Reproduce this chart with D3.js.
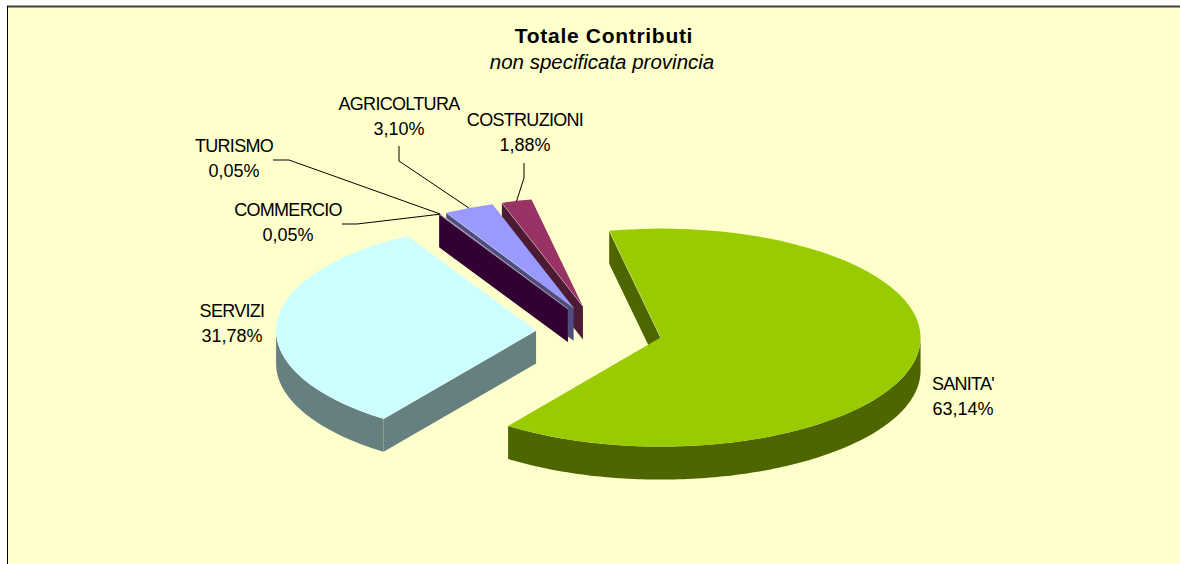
<!DOCTYPE html>
<html>
    <head>
        <meta charset="utf-8">
        <title>Totale Contributi</title>
        <script src="https://cdn.jsdelivr.net/npm/d3@7"></script>
        <style>
         html, body { margin: 0; padding: 0; background: #fff; }
         svg { display: block; }
         text { font-family: "Liberation Sans", Arial, sans-serif; fill: #000; }
        </style>
    </head>

    <body>
        <div id="app"></div>
        <script>
         var categories = ["SANITA'", "SERVIZI", "COMMERCIO", "TURISMO", "AGRICOLTURA", "COSTRUZIONI"]
         var values = [63.14, 31.78, 0.05, 0.05, 3.10, 1.88]
         var topColors = ["#99cc00", "#ccffff", "#660066", "#ffffcc", "#9999ff", "#993366"]
         var wallColors = ["#4d6600", "#668080", "#330033", "#808066", "#4d4d80", "#4d1a33"]

         // label centres and leader elbows, same order as categories
         var labelX = [963, 232, 288, 234, 399, 525]
         var labelY = [390, 317, 216, 152, 110, 126]
         var leaders = [null, null,
                        [[342, 224], [357, 224]],
                        [[273, 160], [289, 160]],
                        [[399, 146], [399, 161]],
                        [[524, 163], [524, 178]]]

         var width = 1180, height = 564
         var cx = 599, cy = 332, rx = 260, ry = 109, depth = 33, explode = 63
         var rad = Math.PI / 180
         var tilt = ry / rx

         var svg = d3.select("#app").append("svg")
                     .attr("width", width)
                     .attr("height", height)

         svg.append("rect")
            .attr("x", 7).attr("y", 6)
            .attr("width", width - 7).attr("height", height - 6)
            .attr("fill", "#ffffcc")
         svg.append("line")
            .attr("x1", 7).attr("x2", width).attr("y1", 6.5).attr("y2", 6.5)
            .attr("stroke", "#404040").attr("stroke-width", 2)
         svg.append("line")
            .attr("x1", 7.5).attr("x2", 7.5).attr("y1", 6).attr("y2", height)
            .attr("stroke", "#000")

         var pie = d3.pie().sort(null)
                     .startAngle(-11.4 * rad)
                     .endAngle((360 - 11.4) * rad)
         var slices = pie(values).map(function(d, i){
             var mid = (d.startAngle + d.endAngle) / 2
             d.i = i
             d.ox = cx + explode * Math.sin(mid)
             d.oy = cy - explode * Math.cos(mid) * tilt
             d.mid = mid
             return d
         })

         function rimPoint(d, a, drop){
             return [d.ox + rx * Math.sin(a),
                     d.oy - ry * Math.cos(a) + (drop || 0)]
         }

         var line = d3.line()
         var arc = d3.arc().innerRadius(0).outerRadius(rx)

         // back slices first so the front ones paint over them
         var order = [0, 5, 4, 3, 2, 1]
         var g = svg.append("g")

         order.forEach(function(i){
             var d = slices[i]
             var sg = g.append("g")

             // cut face hanging under the start edge
             var rim = rimPoint(d, d.startAngle)
             sg.append("path")
               .attr("d", line([[d.ox, d.oy], rim,
                                [rim[0], rim[1] + depth],
                                [d.ox, d.oy + depth]]) + "Z")
               .attr("fill", wallColors[i])

             // outer wall, only where the rim faces the viewer
             var from = Math.max(d.startAngle, 90 * rad)
             var to = Math.min(d.endAngle, 270 * rad)
             if (from < to) {
                 var angles = d3.range(from, to, rad).concat([to])
                 var upper = angles.map(function(a){ return rimPoint(d, a) })
                 var lower = angles.map(function(a){ return rimPoint(d, a, depth) }).reverse()
                 sg.append("path")
                   .attr("d", line(upper.concat(lower)) + "Z")
                   .attr("fill", wallColors[i])
             }

             sg.append("path")
               .attr("d", arc({startAngle: d.startAngle, endAngle: d.endAngle}))
               .attr("transform", "translate(" + d.ox + "," + d.oy + ") scale(1," + tilt + ")")
               .attr("fill", topColors[i])

             // thin light edge where the top meets the cut face
             sg.append("path")
               .attr("d", line([[d.ox, d.oy], rim]))
               .attr("fill", "none")
               .attr("stroke", "#fff")
               .attr("stroke-opacity", 0.45)
               .attr("stroke-width", 0.8)
         })

         // leaders
         slices.forEach(function(d, i){
             if (!leaders[i]) return
             var pts = leaders[i].concat([rimPoint(d, d.mid)])
             svg.append("path")
                .attr("d", line(pts))
                .attr("fill", "none")
                .attr("stroke", "#000")
                .attr("stroke-width", 1)
         })

         var pct = d3.formatLocale({decimal: ",", thousands: ".", grouping: [3], currency: ["", "€"]})
                     .format(".2f")

         slices.forEach(function(d, i){
             var t = svg.append("text")
                        .attr("text-anchor", "middle")
                        .attr("font-size", 18)
             t.append("tspan")
              .attr("x", labelX[i]).attr("y", labelY[i])
              .attr("letter-spacing", -0.7)
              .text(categories[i])
             t.append("tspan")
              .attr("x", labelX[i]).attr("y", labelY[i] + 25)
              .text(pct(d.value) + "%")
         })

         svg.append("text")
            .attr("x", 604).attr("y", 43)
            .attr("text-anchor", "middle")
            .attr("font-size", 21)
            .attr("font-weight", "bold")
            .attr("letter-spacing", 0.7)
            .text("Totale Contributi")
         svg.append("text")
            .attr("x", 602).attr("y", 69)
            .attr("text-anchor", "middle")
            .attr("font-size", 20.5)
            .attr("font-style", "italic")
            .text("non specificata provincia")
        </script>
    </body>

</html>
